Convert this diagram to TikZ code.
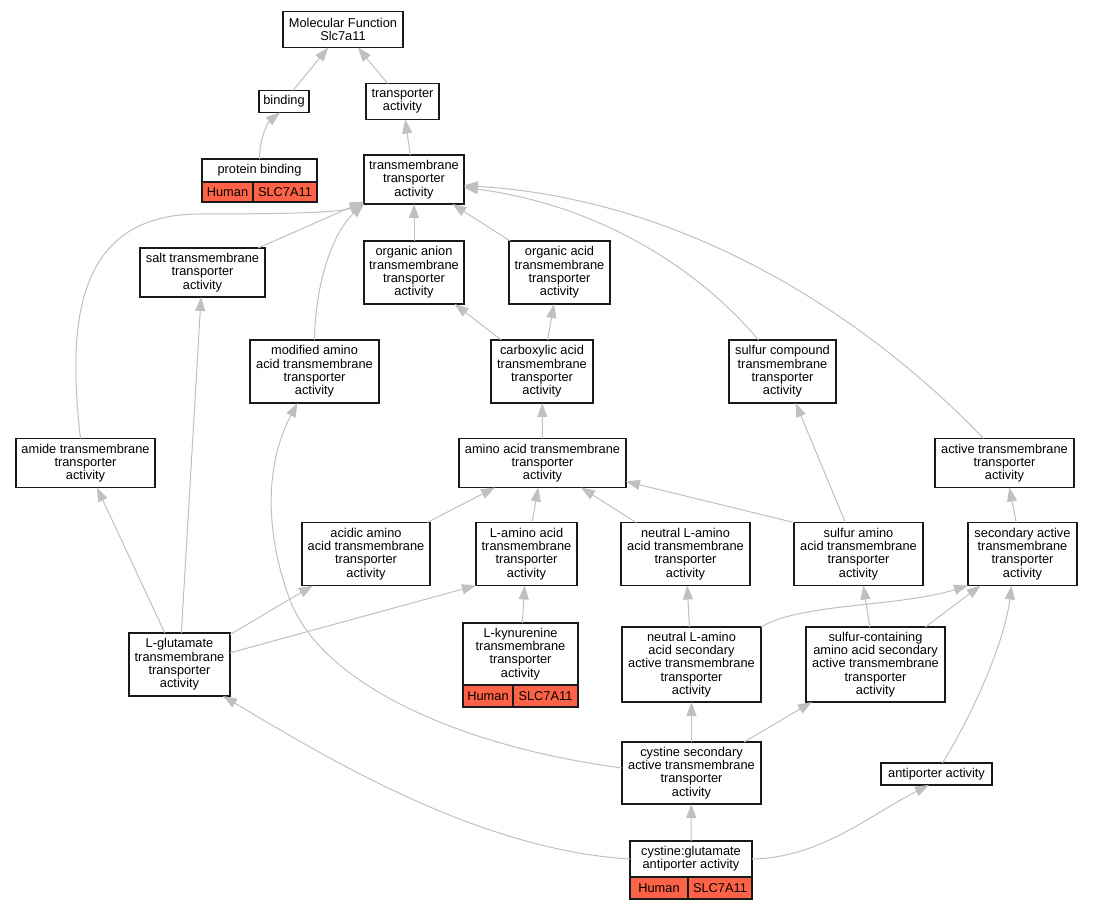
\documentclass[tikz,border=0pt]{standalone}
\usepackage{fontspec}
\setmainfont{Liberation Sans}
\usepackage{tikz}
\usetikzlibrary{
	positioning,
	arrows.meta
}

\definecolor{edgegray}{HTML}{C0C0C0}
\definecolor{genered}{HTML}{FF6347}

\tikzset{
	term/.style={draw=black!90, line width=1.2pt, fill=white, rectangle, align=center,
		inner sep=0pt, outer sep=0pt, font=\fontsize{12.8}{13.3}\selectfont},
	gene/.style={term, fill=genered},
	one/.style={minimum height=22},
	two/.style={minimum height=36},
	three/.style={minimum height=49},
	four/.style={minimum height=63},
	five/.style={minimum height=75},
	link/.style={draw=edgegray, line width=1pt, -{Triangle[length=14pt,width=10pt,fill=edgegray]}}
}

\begin{document}
\begin{tikzpicture}[x=1pt, y=-1pt]
	\useasboundingbox (0,0) rectangle (1093,909);

	\draw
		node [term,two,minimum width=120]   (mf)       at (343,29.5)    {Molecular Function\\Slc7a11}
		node [term,one,minimum width=50]    (binding)  at (284,101.5)   {binding}
		node [term,two,minimum width=73]    (ta)       at (402.5,101.5) {transporter\\activity}
		node [term,minimum width=115,minimum height=23] (pb) at (259.5,170.5) {protein binding}
		node [gene,minimum width=51,minimum height=20,anchor=north west] (pb-sp) at (pb.south west) {Human}
		node [gene,minimum width=64,minimum height=20,anchor=north east] (pb-gn) at (pb.south east) {SLC7A11}
		node [term,three,minimum width=100] (tmta)     at (414,179.5)   {transmembrane\\transporter\\activity}
		node [term,three,minimum width=125] (salt)     at (202.5,272.5) {salt transmembrane\\transporter\\activity}
		node [term,four,minimum width=100]  (oanion)   at (414,272.5)   {organic anion\\transmembrane\\transporter\\activity}
		node [term,four,minimum width=101]  (oacid)    at (559.5,272.5) {organic acid\\transmembrane\\transporter\\activity}
		node [term,four,minimum width=129]  (mod)      at (314.5,371.5) {modified amino\\acid transmembrane\\transporter\\activity}
		node [term,four,minimum width=102]  (carb)     at (542,371.5)   {carboxylic acid\\transmembrane\\transporter\\activity}
		node [term,four,minimum width=107]  (sulfcomp) at (782.5,371.5) {sulfur compound\\transmembrane\\transporter\\activity}
		node [term,three,minimum width=139] (amide)    at (85.5,463)    {amide transmembrane\\transporter\\activity}
		node [term,three,minimum width=167] (aa)       at (542.5,463)   {amino acid transmembrane\\transporter\\activity}
		node [term,three,minimum width=139] (active)   at (1004.5,463)  {active transmembrane\\transporter\\activity}
		node [term,four,minimum width=128]  (acidic)   at (366,554)     {acidic amino\\acid transmembrane\\transporter\\activity}
		node [term,four,minimum width=101]  (lamino)   at (526.5,554)   {L-amino acid\\transmembrane\\transporter\\activity}
		node [term,four,minimum width=129]  (nla)      at (685.5,554)   {neutral L-amino\\acid transmembrane\\transporter\\activity}
		node [term,four,minimum width=129]  (sulfaa)   at (858.5,554)   {sulfur amino\\acid transmembrane\\transporter\\activity}
		node [term,four,minimum width=109]  (secact)   at (1022.5,554)  {secondary active\\transmembrane\\transporter\\activity}
		node [term,four,minimum width=101]  (lglu)     at (179.5,664.5) {L-glutamate\\transmembrane\\transporter\\activity}
		node [term,minimum width=115,minimum height=62] (lkyn) at (520.5,654) {L-kynurenine\\transmembrane\\transporter\\activity}
		node [gene,one,minimum width=50,anchor=north west] (lkyn-sp) at (lkyn.south west) {Human}
		node [gene,one,minimum width=65,anchor=north east] (lkyn-gn) at (lkyn.south east) {SLC7A11}
		node [term,five,minimum width=139]  (nlas)     at (691.5,664.5) {neutral L-amino\\acid secondary\\active transmembrane\\transporter\\activity}
		node [term,five,minimum width=139]  (sulfcont) at (875.5,664.5) {sulfur-containing\\amino acid secondary\\active transmembrane\\transporter\\activity}
		node [term,minimum width=139,minimum height=62] (cyssec) at (691.5,773) {cystine secondary\\active transmembrane\\transporter\\activity}
		node [term,one,minimum width=111]   (antip)    at (936.5,774)   {antiporter activity}
		node [term,two,minimum width=122]   (cyglu)    at (691,859)     {cystine:glutamate\\antiporter activity}
		node [gene,one,minimum width=58,anchor=north west] (cyglu-sp) at (cyglu.south west) {Human}
		node [gene,one,minimum width=64,anchor=north east] (cyglu-gn) at (cyglu.south east) {SLC7A11}
	;

	\draw
		(binding)  edge[link] (mf)
		(ta)       edge[link] (mf)
		(tmta)     edge[link] (ta)
		(salt)     edge[link] (tmta)
		(oanion)   edge[link] (tmta)
		(oacid)    edge[link] (tmta)
		(carb)     edge[link] (oanion)
		(carb)     edge[link] (oacid)
		(aa)       edge[link] (carb)
		(lglu)     edge[link] (salt)
		(lglu)     edge[link] (amide)
		(lglu)     edge[link] (acidic)
		(lglu.13)  edge[link] (lamino.south west)
		(acidic)   edge[link] (aa)
		(lamino)   edge[link] (aa)
		(nla)      edge[link] (aa)
		(sulfaa.north west) edge[link] ([yshift=6pt]aa.south east)
		(secact)   edge[link] (active)
		(lkyn)     edge[link] (lamino)
		(nlas)     edge[link] (nla)
		(sulfcont) edge[link] (sulfaa)
		(sulfcont) edge[link] (secact)
		(sulfaa)   edge[link] (sulfcomp)
		(cyssec)   edge[link] (nlas)
		(cyssec)   edge[link] (sulfcont)
		(cyglu)    edge[link] (cyssec)
	;

	\draw[link] (pb.north) .. controls (259.5,138) and (268,122) .. (binding.250);
	\draw[link] (mod.north) .. controls (315,290) and (330,235) .. (tmta.south west);
	\draw[link] ([xshift=-5pt]amide.north) .. controls (68,330) and (72,214) .. (200,214)
		.. controls (300,214) and (340,212) .. (tmta.south west);
	\draw[link] ([xshift=-24pt]sulfcomp.north) .. controls (700,270) and (600,205) .. ([yshift=-8pt]tmta.east);
	\draw[link] ([xshift=-21pt]active.north) .. controls (880,330) and (700,200) .. ([yshift=-6pt]tmta.east);
	\draw[link] (nlas.north east) .. controls (800,603) and (900,607) .. (secact.south west);
	\draw[link] ([yshift=5pt]cyssec.west) .. controls (450,745) and (320,680) .. (290,600)
		.. controls (267.5,540) and (262,470) .. ([xshift=-17pt]mod.south);
	\draw[link] (cyglu.east) .. controls (820,858) and (870,815) .. (antip.-125);
	\draw[link] (cyglu.west) .. controls (480,850) and (330,760) .. ([xshift=-7pt]lglu.south east);
	\draw[link] ([xshift=6pt]antip.north) .. controls (975,710) and (1005,640) .. ([xshift=-11pt]secact.south);
\end{tikzpicture}
\end{document}
